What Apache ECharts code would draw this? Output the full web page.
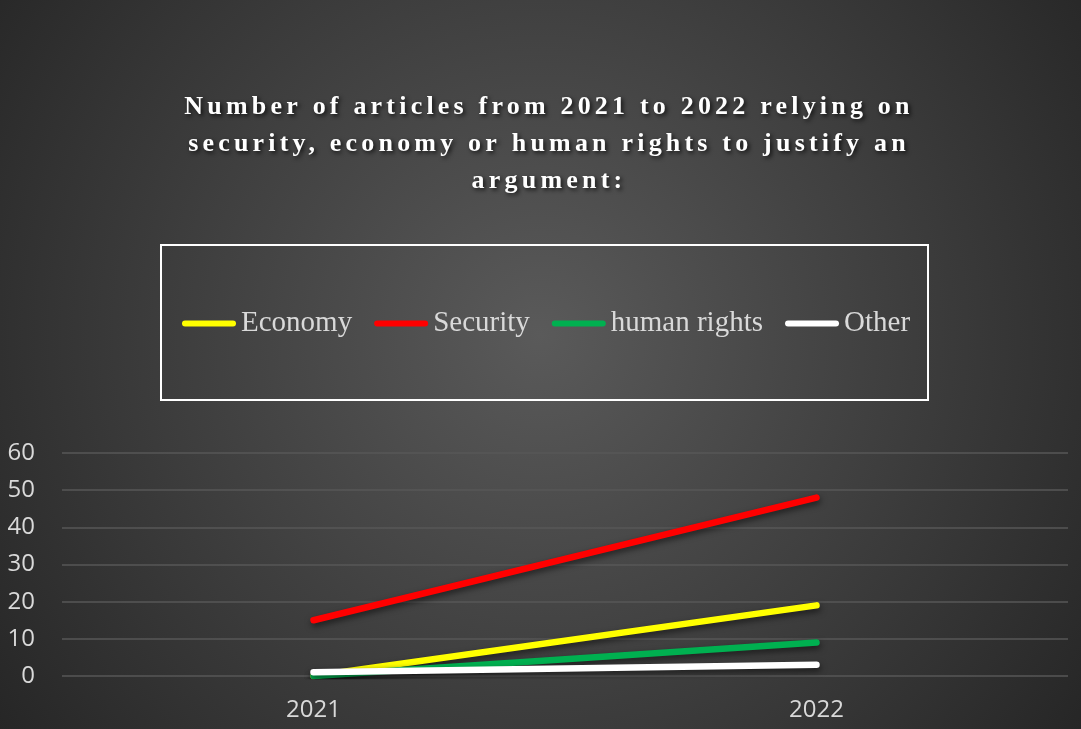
<!DOCTYPE html>
<html>
<head>
<meta charset="utf-8">
<title>Articles by justification, 2021–2022</title>
<script src="https://cdn.jsdelivr.net/npm/echarts@6/dist/echarts.min.js"></script>
<style>
  html, body { margin: 0; padding: 0; background: #262626; }
  #chart { width: 1081px; height: 729px; }
</style>
</head>
<body>
<div id="chart"></div>
<script>
// Years on the category axis
const years = ['2021', '2022'];

// Number of articles per justification type
const economy = [0, 19];
const security = [15, 48];
const humanRights = [0, 9];
const other = [1, 3];

// Value axis ticks
const yTicks = [0, 10, 20, 30, 40, 50, 60];

const seriesDefs = [
  { name: 'Economy', data: economy, color: '#FFFF00' },
  { name: 'Security', data: security, color: '#FF0000' },
  { name: 'human rights', data: humanRights, color: '#00B050' },
  { name: 'Other', data: other, color: '#FFFFFF' }
];

const chart = echarts.init(document.getElementById('chart'), null, { renderer: 'canvas' });

const option = {
  backgroundColor: {
    type: 'radial', x: 0.5, y: 0.46, r: 0.92,
    colorStops: [
      { offset: 0, color: '#5a5a5a' },
      { offset: 1, color: '#262626' }
    ]
  },
  animation: false,
  title: {
    // drawn on its own canvas layer so it can get expanded letter spacing
    zlevel: 1,
    text: 'Number of articles from 2021 to 2022 relying on\nsecurity, economy or human rights to justify an\nargument:',
    left: 549,
    textAlign: 'center',
    top: 89,
    padding: 0,
    textStyle: {
      fontFamily: '"Liberation Serif", "Times New Roman", serif',
      fontWeight: 'bold',
      fontSize: 26,
      lineHeight: 37,
      color: '#ffffff',
      textShadowColor: 'rgba(0,0,0,0.75)',
      textShadowBlur: 4,
      textShadowOffsetX: 2,
      textShadowOffsetY: 2
    }
  },
  graphic: [{
    type: 'rect',
    shape: { x: 161, y: 245, width: 767, height: 155 },
    style: { fill: 'none', stroke: '#ffffff', lineWidth: 2 },
    silent: true
  }],
  legend: {
    left: 182,
    top: 309,
    padding: 0,
    itemGap: 22,
    itemWidth: 54,
    itemHeight: 6,
    icon: 'path://M3,0 L51,0 A3,3 0 0 1 51,6 L3,6 A3,3 0 0 1 3,0 Z',
    textStyle: {
      fontFamily: '"Liberation Serif", "Times New Roman", serif',
      fontSize: 29,
      color: '#d9d9d9'
    },
    data: seriesDefs.map(s => s.name)
  },
  grid: { left: 62, right: 13, top: 453, bottom: 53 },
  xAxis: {
    type: 'category',
    data: years,
    boundaryGap: true,
    axisLine: { show: false },
    axisTick: { show: false },
    axisLabel: {
      margin: 22,
      color: '#d9d9d9',
      fontFamily: '"Open Sans", sans-serif',
      fontSize: 24
    }
  },
  yAxis: {
    type: 'value',
    min: yTicks[0],
    max: yTicks[yTicks.length - 1],
    interval: yTicks[1] - yTicks[0],
    axisLine: { show: false },
    axisTick: { show: false },
    axisLabel: {
      margin: 27,
      color: '#d9d9d9',
      fontFamily: '"Open Sans", sans-serif',
      fontSize: 24
    },
    splitLine: { lineStyle: { color: '#575757', width: 1.5 } }
  },
  series: seriesDefs.map(s => ({
    name: s.name,
    type: 'line',
    data: s.data,
    symbol: 'none',
    color: s.color,
    lineStyle: {
      color: s.color,
      width: 6.5,
      cap: 'round',
      join: 'round',
      shadowColor: 'rgba(0,0,0,0.55)',
      shadowBlur: 6,
      shadowOffsetX: 1,
      shadowOffsetY: 3
    }
  }))
};

chart.setOption(option);

// Expanded character spacing for the title layer
const zr = chart.getZr();
const titleLayer = zr.painter.getLayer && zr.painter.getLayer(1);
if (titleLayer && titleLayer.ctx && 'letterSpacing' in titleLayer.ctx) {
  titleLayer.ctx.letterSpacing = '4.2px';
  zr.painter.refresh(true);
}
</script>
</body>
</html>
